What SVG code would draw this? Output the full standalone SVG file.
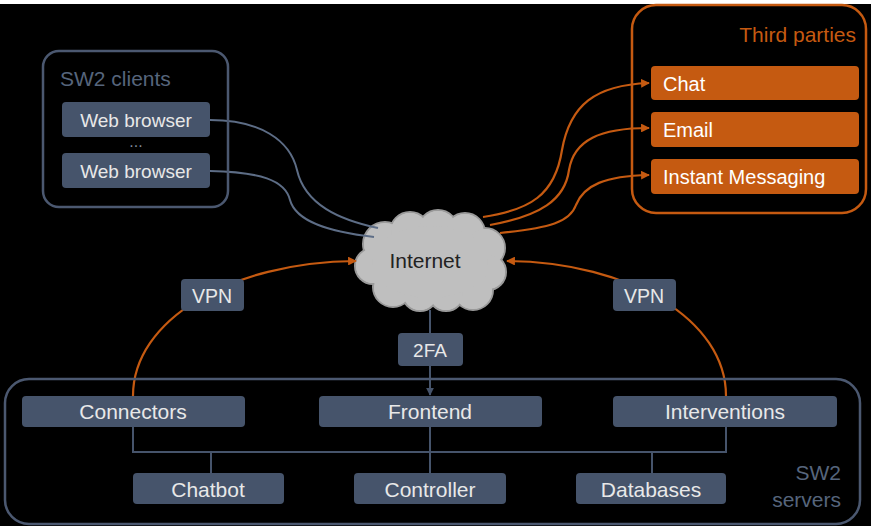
<svg xmlns="http://www.w3.org/2000/svg" width="871" height="526" viewBox="0 0 871 526">
<defs>
<style>
.bg{fill:#000}
.box{fill:#46546b}
.obox{fill:#c55a11}
.frame{fill:none;stroke:#4b5870;stroke-width:2.5}
.oframe{fill:none;stroke:#c55a11;stroke-width:2.5}
.t{font-family:"Liberation Sans",Arial,sans-serif;fill:#e8e8e8;font-size:21px;text-anchor:middle}
.tl{font-family:"Liberation Sans",Arial,sans-serif;fill:#ffffff;font-size:20px}
.title{font-family:"Liberation Sans",Arial,sans-serif;fill:#56657c;font-size:21px}
.otitle{font-family:"Liberation Sans",Arial,sans-serif;fill:#c55a11;font-size:21px}
.wire{fill:none;stroke:#5d6d86;stroke-width:2}
.bus{fill:none;stroke:#46546b;stroke-width:2}
.owire{fill:none;stroke:#c55a11;stroke-width:2.2}
.cl{fill:#bfbfbf;stroke:#9a9a9a;stroke-width:2}
.cf{fill:#bfbfbf}
</style>
<marker id="oa" viewBox="0 0 10 10" refX="9" refY="5" markerWidth="4" markerHeight="4" orient="auto" markerUnits="strokeWidth">
<path d="M0,0 L10,5 L0,10 z" fill="#c55a11"/>
</marker>
<marker id="ga" viewBox="0 0 10 10" refX="9" refY="5" markerWidth="4" markerHeight="4" orient="auto" markerUnits="strokeWidth">
<path d="M0,0 L10,5 L0,10 z" fill="#46546b"/>
</marker>
</defs>
<rect width="871" height="526" fill="#ffffff"/>
<rect class="bg" x="0" y="4" width="871" height="522"/>

<g id="internet">
<g class="cl">
<circle cx="385" cy="244" r="22"/>
<circle cx="410" cy="232" r="20"/>
<circle cx="438" cy="230" r="20"/>
<circle cx="465" cy="233" r="20"/>
<circle cx="485" cy="248" r="20"/>
<circle cx="488" cy="272" r="18"/>
<circle cx="473" cy="290" r="20"/>
<circle cx="446" cy="293" r="18"/>
<circle cx="420" cy="293" r="18"/>
<circle cx="393" cy="287" r="20"/>
<circle cx="373" cy="266" r="18"/>
</g>
<g class="cf">
<circle cx="385" cy="244" r="21"/>
<circle cx="410" cy="232" r="19"/>
<circle cx="438" cy="230" r="19"/>
<circle cx="465" cy="233" r="19"/>
<circle cx="485" cy="248" r="19"/>
<circle cx="488" cy="272" r="17"/>
<circle cx="473" cy="290" r="19"/>
<circle cx="446" cy="293" r="17"/>
<circle cx="420" cy="293" r="17"/>
<circle cx="393" cy="287" r="19"/>
<circle cx="373" cy="266" r="17"/>
<ellipse cx="430" cy="262" rx="58" ry="36"/>
</g>
<text x="425" y="268" style="font-family:'Liberation Sans',Arial,sans-serif;font-size:21px;fill:#222;text-anchor:middle">Internet</text>
</g>

<g id="connectors">
<path class="wire" d="M210,120 C260,120 290,140 297,170 C305,205 340,220 378,228"/>
<path class="wire" d="M210,171 C260,172 285,180 290,200 C296,222 330,232 374,237"/>
<path class="owire" marker-end="url(#oa)" d="M483,217 C530,210 555,195 562,150 C570,105 595,85 649,83"/>
<path class="owire" marker-end="url(#oa)" d="M490,225 C540,216 565,200 569,170 C574,140 600,128 649,128"/>
<path class="owire" marker-end="url(#oa)" d="M500,233 C550,228 570,222 576,205 C584,185 605,176 649,175"/>
<path class="owire" marker-end="url(#oa)" d="M133,396 C133,320 230,262 356,261"/>
<path class="owire" marker-end="url(#oa)" d="M726,396 C726,320 630,262 507,261"/>
<path class="bus" d="M430,310 V333"/>
<path class="bus" marker-end="url(#ga)" d="M430,366 V395"/>
<path class="bus" d="M133,427 V452 H726 V427"/>
<path class="bus" d="M430,427 V473"/>
<path class="bus" d="M211,452 V473"/>
<path class="bus" d="M652,452 V473"/>
</g>

<g id="sw2-clients">
<rect class="frame" x="43" y="51" width="185" height="156" rx="16"/>
<text class="title" x="60" y="86">SW2 clients</text>
</g>
<g id="web-browser-1">
<rect class="box" x="62" y="102" width="148" height="35" rx="4"/>
<text class="t" x="136" y="127" style="font-size:19px">Web browser</text>
</g>
<text x="136" y="147" style="font-family:'Liberation Sans',Arial,sans-serif;font-size:16px;fill:#7f8899;text-anchor:middle">...</text>
<g id="web-browser-2">
<rect class="box" x="62" y="153" width="148" height="35" rx="4"/>
<text class="t" x="136" y="178" style="font-size:19px">Web browser</text>
</g>

<g id="third-parties">
<rect class="oframe" x="632" y="5" width="234" height="208" rx="24"/>
<text class="otitle" x="856" y="42" text-anchor="end">Third parties</text>
</g>
<g id="chat">
<rect class="obox" x="651" y="66" width="208" height="34" rx="4"/>
<text class="tl" x="663" y="91">Chat</text>
</g>
<g id="email">
<rect class="obox" x="651" y="112" width="208" height="35" rx="4"/>
<text class="tl" x="663" y="137">Email</text>
</g>
<g id="instant-messaging">
<rect class="obox" x="651" y="159" width="208" height="35" rx="4"/>
<text class="tl" x="663" y="184">Instant Messaging</text>
</g>

<g id="vpn-left">
<rect class="box" x="181" y="279" width="63" height="32" rx="4"/>
<text class="t" x="212" y="303" style="font-size:19.5px">VPN</text>
</g>
<g id="vpn-right">
<rect class="box" x="613" y="279" width="63" height="32" rx="4"/>
<text class="t" x="644" y="303" style="font-size:19.5px">VPN</text>
</g>
<g id="twofa">
<rect class="box" x="398" y="333" width="65" height="33" rx="4"/>
<text class="t" x="430" y="357" style="font-size:19px">2FA</text>
</g>

<g id="sw2-servers">
<rect class="frame" x="5" y="379" width="855" height="145" rx="24"/>
<text class="title" x="841" y="480" text-anchor="end">SW2</text>
<text class="title" x="841" y="507" text-anchor="end">servers</text>
</g>
<g id="connectors-node">
<rect class="box" x="22" y="396" width="223" height="31" rx="4"/>
<text class="t" x="133" y="419">Connectors</text>
</g>
<g id="frontend">
<rect class="box" x="319" y="396" width="223" height="31" rx="4"/>
<text class="t" x="430" y="419">Frontend</text>
</g>
<g id="interventions">
<rect class="box" x="613" y="396" width="224" height="31" rx="4"/>
<text class="t" x="725" y="419">Interventions</text>
</g>
<g id="chatbot">
<rect class="box" x="133" y="473" width="151" height="31" rx="4"/>
<text class="t" x="208" y="497">Chatbot</text>
</g>
<g id="controller">
<rect class="box" x="354" y="473" width="152" height="31" rx="4"/>
<text class="t" x="430" y="497">Controller</text>
</g>
<g id="databases">
<rect class="box" x="576" y="473" width="150" height="31" rx="4"/>
<text class="t" x="651" y="497">Databases</text>
</g>
</svg>
